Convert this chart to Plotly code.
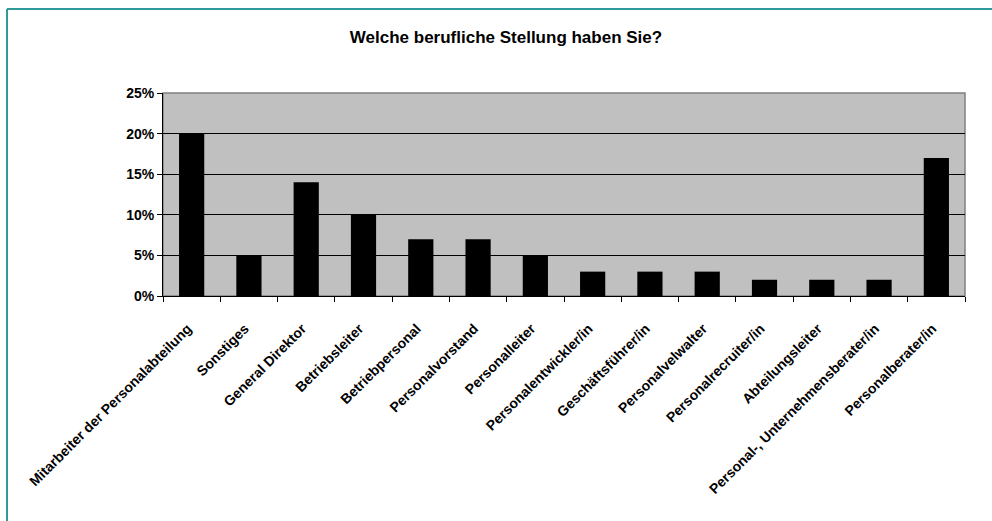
import plotly.graph_objects as go

categories = [
    "Mitarbeiter der Personalabteilung",
    "Sonstiges",
    "General Direktor",
    "Betriebsleiter",
    "Betriebpersonal",
    "Personalvorstand",
    "Personalleiter",
    "Personalentwickler/in",
    "Geschäftsführer/in",
    "Personalvelwalter",
    "Personalrecruiter/in",
    "Abteilungsleiter",
    "Personal-, Unternehmensberater/in",
    "Personalberater/in",
]
values = [20, 5, 14, 10, 7, 7, 5, 3, 3, 3, 2, 2, 2, 17]
y_ticks = [0, 5, 10, 15, 20, 25]

W, H = 992, 521
L, T = 163, 93
pw, ph = 802, 203
R, B = W - L - pw, H - T - ph

fig = go.Figure(go.Bar(
    x=categories, y=values,
    marker=dict(color="black", line=dict(color="black", width=0)),
    hoverinfo="x+y",
))

font = "Liberation Sans, Arial, sans-serif"
fig.update_layout(
    width=W, height=H,
    margin=dict(l=L, r=R, t=T, b=B, pad=0),
    paper_bgcolor="white",
    plot_bgcolor="#c0c0c0",
    bargap=0.56,
    showlegend=False,
    title=dict(text="<b>Welche berufliche Stellung haben Sie?</b>",
               x=506 / W, xref="container",
               xanchor="center", y=1 - 37 / H, yanchor="middle",
               font=dict(family=font, size=17, color="black")),
    font=dict(family=font, color="black"),
)
fig.update_xaxes(
    tickangle=-45, tickfont=dict(family=font, size=14, color="black"),
    tickprefix="<b>", ticksuffix="</b>",
    showline=True, linecolor="black", linewidth=1,
    ticks="outside", ticklen=5, tickcolor="black", tickson="boundaries",
    ticklabelstandoff=18, ticklabelshift=-4,
    showgrid=False, fixedrange=True,
)
fig.update_yaxes(
    range=[0, 25], tickvals=y_ticks,
    ticktext=[f"<b>{v}%</b>" for v in y_ticks],
    tickfont=dict(family=font, size=14, color="black"),
    showline=True, linecolor="black", linewidth=1,
    ticks="outside", ticklen=5, tickcolor="black",
    showgrid=True, gridcolor="black", gridwidth=1,
    zeroline=False, fixedrange=True,
)
# plot-area border (gray top/right)
fig.add_shape(type="rect", xref="paper", yref="paper", x0=0, x1=1, y0=0, y1=1,
              line=dict(color="#808080", width=1.5), layer="below")
# outer chart border (teal), only top and left edges fall inside the view
fig.add_shape(type="line", xref="paper", yref="paper",
              x0=(7 - L) / pw, x1=(W + 300 - L) / pw,
              y0=1 + (T - 9) / ph, y1=1 + (T - 9) / ph,
              line=dict(color="#2f9a9a", width=2), layer="below")
fig.add_shape(type="line", xref="paper", yref="paper",
              x0=(7 - L) / pw, x1=(7 - L) / pw,
              y0=-(H + 300 - T - ph) / ph, y1=1 + (T - 9) / ph,
              line=dict(color="#2f9a9a", width=2), layer="below")

fig.write_html(
    "out.html",
    config={"displayModeBar": False},
    post_script="document.body.style.margin='0';document.body.style.overflow='hidden';",
)
